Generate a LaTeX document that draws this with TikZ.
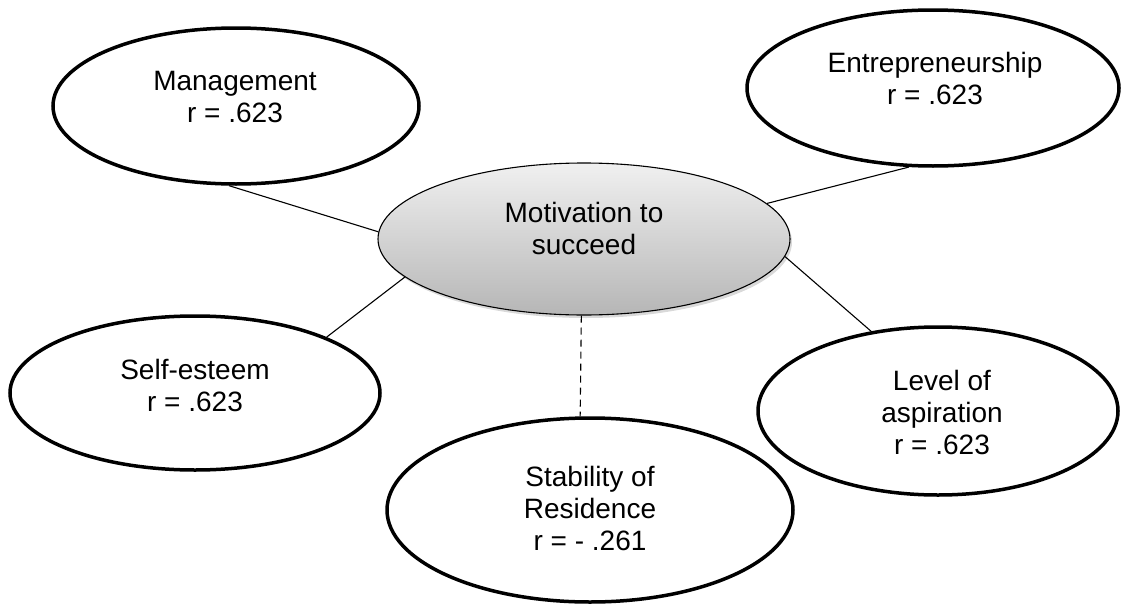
\documentclass[tikz,border=0pt]{standalone}
\usepackage{fontspec}
\setmainfont{Liberation Sans}
\usetikzlibrary{shapes.geometric,shadows}
\definecolor{shadeTop}{RGB}{240,240,240}
\definecolor{shadeBot}{RGB}{182,182,182}
\begin{document}
\begin{tikzpicture}[x=1pt,y=-1pt,
  outer/.style={ellipse, draw, line width=3.5pt, fill=white, inner sep=0pt},
  hub/.style={ellipse, draw, line width=1.1pt, top color=shadeTop, bottom color=shadeBot, inner sep=0pt,
    drop shadow={shadow xshift=2pt, shadow yshift=-3pt, opacity=0.3}},
  lbl/.style={align=center, font=\fontsize{28pt}{32pt}\selectfont, inner sep=0pt},
  link/.style={line width=1.1pt}]
\useasboundingbox (0,0) rectangle (1124,605);
% ellipses
\node[outer, minimum width=366pt, minimum height=156pt] (mgmt) at (236,106) {};
\node[outer, minimum width=372pt, minimum height=156pt] (entr) at (933,88) {};
\node[outer, minimum width=370pt, minimum height=154pt] (self) at (195,393) {};
\node[outer, minimum width=360pt, minimum height=168pt] (levl) at (938,411) {};
\node[outer, minimum width=406pt, minimum height=184pt] (stab) at (590,510) {};
\node[hub, minimum width=412pt, minimum height=152pt] (hub) at (584,239) {};
% texts
\node[lbl] (tmgmt) at (235,97) {Management\\r = .623};
\node[lbl] (tentr) at (935,78) {Entrepreneurship\\r = .623};
\node[lbl] (tself) at (195,385) {Self-esteem\\r = .623};
\node[lbl] (tlevl) at (942,412) {Level of\\aspiration\\r = .623};
\node[lbl] (tstab) at (590,508) {Stability of\\Residence\\r = - .261};
\node[lbl] (thub) at (584,228) {Motivation to\\succeed};
% connectors
\draw[link] (mgmt.265) -- (hub.178);
\draw[link] (entr.253) -- (hub.11);
\draw[link] (levl.130) -- (hub.355);
\draw[link] (self.23) -- (hub.192);
\draw[link, dash pattern=on 7pt off 5pt] (hub.268) -- (stab.96);
\end{tikzpicture}
\end{document}
